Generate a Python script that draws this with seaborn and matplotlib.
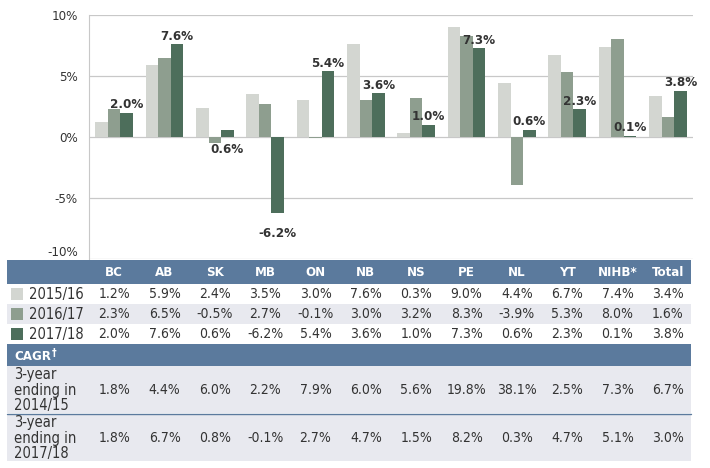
import pandas as pd
import seaborn as sns
from matplotlib import pyplot as plt
from matplotlib.patches import Rectangle

regions = ['BC', 'AB', 'SK', 'MB', 'ON', 'NB', 'NS', 'PE', 'NL', 'YT', 'NIHB*', 'Total']
years = ['2015/16', '2016/17', '2017/18']
growth_1516 = [1.2, 5.9, 2.4, 3.5, 3.0, 7.6, 0.3, 9.0, 4.4, 6.7, 7.4, 3.4]
growth_1617 = [2.3, 6.5, -0.5, 2.7, -0.1, 3.0, 3.2, 8.3, -3.9, 5.3, 8.0, 1.6]
growth_1718 = [2.0, 7.6, 0.6, -6.2, 5.4, 3.6, 1.0, 7.3, 0.6, 2.3, 0.1, 3.8]
cagr_labels = ['3-year\nending in\n2014/15', '3-year\nending in\n2017/18']
cagr_1415 = [1.8, 4.4, 6.0, 2.2, 7.9, 6.0, 5.6, 19.8, 38.1, 2.5, 7.3, 6.7]
cagr_1718 = [1.8, 6.7, 0.8, -0.1, 2.7, 4.7, 1.5, 8.2, 0.3, 4.7, 5.1, 3.0]
yticks = [-10, -5, 0, 5, 10]
label_below = ['SK', 'MB']

colors = ['#d3d6d1', '#8e9e8f', '#4d6e5b']
HEADER = '#5b7a9d'
STRIPE = '#e8e9ef'
TEXT = '#333333'

sns.set_style('white')
plt.rcParams['font.family'] = ['DejaVu Sans']
plt.rcParams['font.stretch'] = 'condensed'

series = [growth_1516, growth_1617, growth_1718]
df = pd.DataFrame({
    'region': regions * 3,
    'year': [y for y in years for _ in regions],
    'growth': growth_1516 + growth_1617 + growth_1718,
})

fig = plt.figure(figsize=(7.1, 4.68), dpi=100)
ax = fig.add_axes([89 / 710, 1 - 259 / 468, 604 / 710, 244 / 468])

sns.barplot(data=df, x='region', y='growth', hue='year', order=regions,
            hue_order=years, palette=colors, width=0.75, saturation=1,
            legend=False, linewidth=0, ax=ax, zorder=2)

ax.set_xlim(-0.5, len(regions) - 0.5)
ax.set_ylim(-10, 10)
ax.set_yticks(yticks)
ax.set_yticklabels([f'{t}%' for t in yticks], fontsize=9.5, color=TEXT)
ax.get_yticklabels()[0].set_va('bottom')
ax.set_xticks([])
ax.set_xlabel('')
ax.set_ylabel('')
ax.grid(axis='y', color='#c8c8c8', lw=0.9)
ax.set_axisbelow(True)
for s in ['top', 'right', 'bottom']:
    ax.spines[s].set_visible(False)
ax.spines['left'].set_color('#c8c8c8')
ax.tick_params(axis='y', length=0, pad=8)

# value labels on the latest year only
for name, bar, val in zip(regions, ax.containers[2], growth_1718):
    xc = bar.get_x() + bar.get_width() / 2
    if name in label_below:
        ax.annotate(f'{val:.1f}%', (xc, min(val, 0)), xytext=(0, -4 if val > 0 else -10),
                    textcoords='offset points', ha='center', va='top',
                    fontsize=9.5, fontweight='bold', color=TEXT)
    else:
        ax.annotate(f'{val:.1f}%', (xc, val), xytext=(0, 1),
                    textcoords='offset points', ha='center', va='bottom',
                    fontsize=9.5, fontweight='bold', color=TEXT)

# table below, drawn in pixel coordinates
tab = fig.add_axes([0, 0, 1, 1], zorder=3)
tab.set_xlim(0, 710)
tab.set_ylim(468, 0)
tab.axis('off')
tab.patch.set_alpha(0)

col_x = [ax.transData.transform((i, 0))[0] for i in range(len(regions))]
left, right = 7, 691

tab.add_patch(Rectangle((left, 260), right - left, 24, color=HEADER, lw=0))
for x, name in zip(col_x, regions):
    tab.text(x, 272.5, name, ha='center', va='center', color='white',
             fontsize=9.5, fontweight='bold')

row_top = [284, 304, 324]
for i, (yr, vals, c) in enumerate(zip(years, series, colors)):
    y0 = row_top[i]
    if i == 1:
        tab.add_patch(Rectangle((left, y0), right - left, 20, color=STRIPE, lw=0))
    yc = y0 + 10
    tab.add_patch(Rectangle((11, yc - 6), 12, 12, color=c, lw=0))
    tab.text(29, yc + 0.5, yr, ha='left', va='center', color=TEXT, fontsize=10.5)
    for x, v in zip(col_x, vals):
        tab.text(x, yc + 0.5, f'{v:.1f}%', ha='center', va='center',
                 color=TEXT, fontsize=10)

tab.add_patch(Rectangle((left, 344), right - left, 22, color=HEADER, lw=0))
t = tab.text(14, 356, 'CAGR', ha='left', va='center', color='white',
             fontsize=9.5, fontweight='bold')
tab.annotate('\u2020', xy=(1, 1), xycoords=t, xytext=(0.5, 1),
             textcoords='offset points', ha='left', va='top',
             color='white', fontsize=7.5, fontweight='bold')

cagr_rows = [(366, cagr_labels[0], cagr_1415), (414, cagr_labels[1], cagr_1718)]
for y0, lab, vals in cagr_rows:
    tab.add_patch(Rectangle((left, y0), right - left, 47, color=STRIPE, lw=0))
    yc = y0 + 24
    tab.text(14, yc, lab, ha='left', va='center', color=TEXT, fontsize=10.5,
             linespacing=1.05)
    for x, v in zip(col_x, vals):
        tab.text(x, yc, f'{v:.1f}%', ha='center', va='center',
                 color=TEXT, fontsize=10)
tab.plot([left, right], [414, 414], color=HEADER, lw=1)

fig.savefig('out.png', dpi=100)
plt.close(fig)
